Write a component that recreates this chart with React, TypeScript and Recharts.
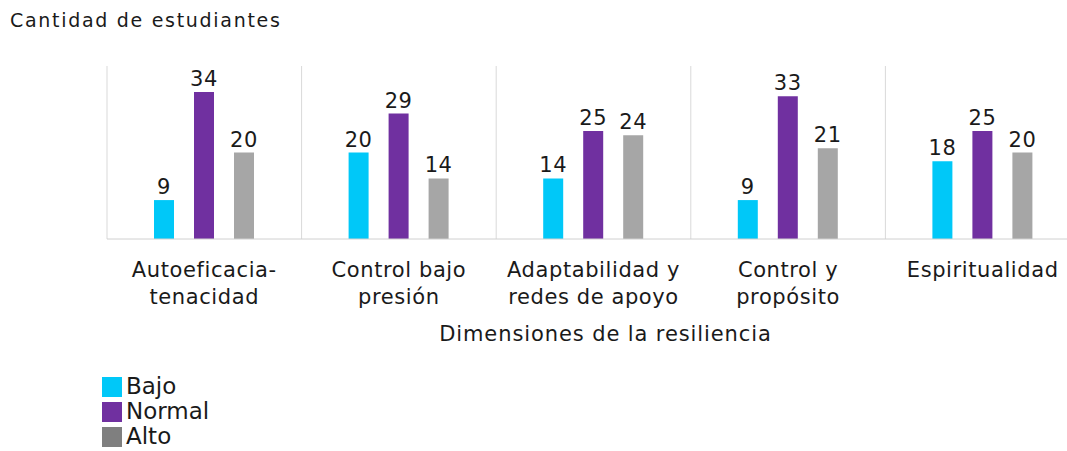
import React from "react";
import {
  BarChart,
  Bar,
  XAxis,
  YAxis,
  CartesianGrid,
  LabelList,
  Legend,
  Label,
} from "recharts";

const categories = [
  "Autoeficacia-\ntenacidad",
  "Control bajo\npresión",
  "Adaptabilidad y\nredes de apoyo",
  "Control y\npropósito",
  "Espiritualidad",
];
const bajo = [9, 20, 14, 9, 18];
const normal = [34, 29, 25, 33, 25];
const alto = [20, 14, 24, 21, 20];

const series = [
  { key: "bajo", name: "Bajo", color: "#00c8f8", legend: "#00c8f8" },
  { key: "normal", name: "Normal", color: "#7030a0", legend: "#7030a0" },
  { key: "alto", name: "Alto", color: "#a6a6a6", legend: "#7f7f7f" },
];

const data = categories.map((c, i) => ({
  name: c,
  bajo: bajo[i],
  normal: normal[i],
  alto: alto[i],
}));

const FONT = "'DejaVu Sans', Verdana, sans-serif";
const TEXT = "#1a1a1a";

function CategoryTick(props: any) {
  const { x, y, payload } = props;
  const lines = String(payload.value).split("\n");
  return (
    <text
      x={x}
      y={y}
      textAnchor="middle"
      fill={TEXT}
      fontFamily={FONT}
      fontSize={21}
      letterSpacing={0.6}
    >
      {lines.map((l, i) => (
        <tspan key={i} x={x} dy={i === 0 ? 30 : 27}>
          {l}
        </tspan>
      ))}
    </text>
  );
}

function LegendBox() {
  return (
    <div style={{ fontFamily: FONT, fontSize: 23, color: TEXT }}>
      {series.map((s) => (
        <div key={s.key} style={{ display: "flex", alignItems: "center", height: 25 }}>
          <span
            style={{
              width: 20,
              height: 20,
              background: s.legend,
              display: "inline-block",
              marginRight: 4,
            }}
          />
          <span style={{ lineHeight: "25px" }}>{s.name}</span>
        </div>
      ))}
    </div>
  );
}

export default function App() {
  return (
    <div
      style={{
        position: "absolute",
        left: 0,
        top: 0,
        width: 1067,
        height: 451,
        overflow: "hidden",
        background: "#fff",
      }}
    >
      <div
        style={{
          position: "absolute",
          left: 10,
          top: 9,
          fontFamily: FONT,
          fontSize: 19,
          letterSpacing: 1.7,
          color: TEXT,
        }}
      >
        Cantidad de estudiantes
      </div>
      <BarChart
        width={1080}
        height={451}
        data={data}
        margin={{ top: 66, right: 0, bottom: 102, left: 107 }}
        barSize={20}
        barGap={20}
      >
        <CartesianGrid
          horizontal={false}
          stroke="#d9d9d9"
          verticalCoordinatesGenerator={({ offset }: any) =>
            [0, 1, 2, 3, 4, 5].map((i) => offset.left + (i * offset.width) / 5)
          }
        />
        <XAxis
          dataKey="name"
          interval={0}
          tickLine={false}
          axisLine={{ stroke: "#d0d0d0" }}
          tick={<CategoryTick />}
          height={110}
        >
          <Label
            value="Dimensiones de la resiliencia"
            position="insideBottom"
            dx={12}
            offset={8}
            fill={TEXT}
            fontFamily={FONT}
            fontSize={21}
            letterSpacing={0.9}
          />
        </XAxis>
        <YAxis hide domain={[0, 40]} />
        <Legend
          layout="vertical"
          verticalAlign="middle"
          align="center"
          content={<LegendBox />}
          wrapperStyle={{ left: 102, top: 374, width: 200 }}
        />
        {series.map((s) => (
          <Bar key={s.key} dataKey={s.key} name={s.name} fill={s.color} isAnimationActive={false}>
            <LabelList
              dataKey={s.key}
              position="top"
              offset={6}
              fill={TEXT}
              fontFamily={FONT}
              fontSize={21}
              letterSpacing={0.6}
            />
          </Bar>
        ))}
      </BarChart>
    </div>
  );
}
